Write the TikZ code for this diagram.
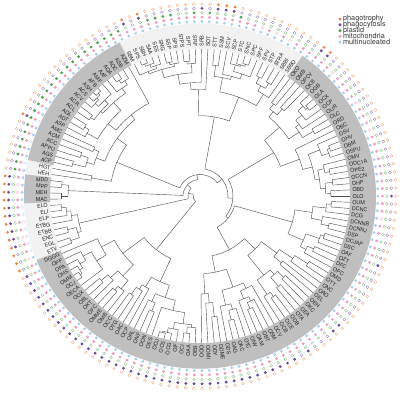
\documentclass[tikz,border=0pt]{standalone}
\usepackage{fontspec}
\setmainfont{TeX Gyre Heros}
\definecolor{phagotrophy}{HTML}{F0874A}
\definecolor{phagocytosis}{HTML}{6B4A9E}
\definecolor{plastid}{HTML}{4CA64C}
\definecolor{mitochondria}{HTML}{F09BBE}
\definecolor{multinucleated}{HTML}{A9CFEE}
\tikzset{
  branch/.style={draw=black!70, line width=0.3pt},
  leaflab/.style={inner sep=0.2pt, font=\fontsize{3.8}{4}\selectfont, text=black!85},
  legtext/.style={inner sep=0pt, font=\fontsize{5.2}{5.5}\selectfont, text=black!80},
  cladeband/.style={fill=black!25},
  paleband/.style={fill=black!5},
}
\def\tipr{150}
\def\leafstep{2.41610738}% 360/149
% one arc between two child angles, stem down to the parent radius
\newcommand\joinclades[4]{%
  \draw[branch] (#1:#3) arc[start angle=#1, end angle=#2, radius=#3];
  \pgfmathsetmacro\thN{(#1+#2)/2}%
  \draw[branch] (\thN:#4) -- (\thN:#3);
  \xdef\cladeang{\thN}}
% leaves #1..#2 hanging from radius #3, split at random
\newcommand\subclade[3]{%
  \begingroup
  \edef\ca{#1}\edef\cb{#2}\edef\crp{#3}%
  \ifnum\ca=\cb\relax
    \pgfmathsetmacro\ang{\ca*\leafstep}%
    \draw[branch] (\ang:\crp) -- (\ang:\tipr);
    \xdef\cladeang{\ang}%
  \else
    \pgfmathsetmacro\rr{\crp+(\tipr-\crp)*(0.12+0.3*rnd)}%
    \pgfmathtruncatemacro\mm{\ca+min(floor((\cb-\ca)*rnd),\cb-\ca-1)}%
    \edef\next{\noexpand\cladesplit{\ca}{\mm}{\cb}{\crp}{\rr}}%
    \expandafter\next
  \fi
  \endgroup}
% leaves #1..#3 split after #2, parent radius #4, node radius #5
\newcommand\cladesplit[5]{%
  \begingroup
  \pgfmathtruncatemacro\mmp{#2+1}%
  \subclade{#1}{#2}{#5}\let\thA\cladeang
  \subclade{\mmp}{#3}{#5}\let\thB\cladeang
  \joinclades{\thA}{\thB}{#5}{#4}%
  \endgroup}
\newcommand\band[3]{%
  \pgfmathsetmacro\ba{#1*\leafstep}\pgfmathsetmacro\bb{#2*\leafstep}%
  \fill[#3] (\ba:150) arc[start angle=\ba, end angle=\bb, radius=150]
    -- (\bb:176) arc[start angle=\bb, end angle=\ba, radius=176] -- cycle;}
\newcommand\traitdot[3]{%
  \ifnum#3=1 \fill[#2] (\ang:#1) circle[radius=1.6];%
  \else \draw[#2!70, line width=0.25pt] (\ang:#1) circle[radius=1.45];\fi}
\def\dottraits#1#2#3#4#5\relax{%
  \traitdot{196}{phagotrophy}{#1}%
  \traitdot{191.5}{phagocytosis}{#2}%
  \traitdot{187}{plastid}{#3}%
  \traitdot{182.5}{mitochondria}{#4}%
  \traitdot{178}{multinucleated}{#5}}

\begin{document}
\begin{tikzpicture}[x=0.025cm, y=0.0245cm]
\useasboundingbox (-200,-200) rectangle (200,200);

% label bands
\fill[paleband, even odd rule] (0,0) circle[radius=176] (0,0) circle[radius=150];
\band{197.5}{218.5}{cladeband}
\band{220.5}{224.5}{cladeband}
\band{232.5}{320.5}{cladeband}

% tree
\pgfmathsetseed{11}
\cladesplit{149}{160}{171}{33}{86}\let\tOR\cladeang
\cladesplit{137}{142}{148}{36}{96}\let\tBR\cladeang
\cladesplit{112}{124}{136}{36}{62}\let\tBo\cladeang
\joinclades{\tBo}{\tBR}{36}{33}\let\tBB\cladeang
\joinclades{\tBB}{\tOR}{33}{28}\let\tPa\cladeang
\cladesplit{172}{184}{197}{28}{82}\let\tS\cladeang
\joinclades{\tPa}{\tS}{28}{22}\let\tPb\cladeang
\cladesplit{198}{218}{220}{22}{90}\let\tAH\cladeang
\joinclades{\tPb}{\tAH}{22}{17}\let\tPc\cladeang
\cladesplit{221}{222}{224}{17}{132}\let\tM\cladeang
\joinclades{\tPc}{\tM}{17}{12}\let\tPd\cladeang
\cladesplit{225}{228}{232}{12}{124}\let\tE\cladeang
\joinclades{\tPd}{\tE}{12}{7}\let\tPe\cladeang
\cladesplit{233}{245}{260}{7}{70}\let\tBL\cladeang
\joinclades{\tPe}{\tBL}{7}{7}

% leaf labels and trait rings
\foreach \i/\lab/\code in {
  112/ODO/01011, 113/ODMI/01011, 114/ODY/01011, 115/ODME/01011, 116/ODS/01011,
  117/OAG/01011, 118/OAC/01011, 119/OTC/01011, 120/ONV/01011, 121/OAM/01011,
  122/OBT/01011, 123/OSM/01011, 124/OCV/01011, 125/OCB/00011, 126/OCE/01011,
  127/ODB/00011, 128/OTA/00011, 129/OEA/00011, 130/OKC/01011, 131/OEH/01011,
  132/OEL/00011, 133/OAO/00011, 134/ONC/00011, 135/OTT/00011, 136/OMD/00011,
  137/OPC/00011, 138/DFC/00011, 139/OZT/00011, 140/OAF/01011, 141/DSC/00011,
  142/OCJAP/00011, 143/DSP/00011, 144/DCNNJ/00011, 145/DCNNB/00011, 146/DCG/00001,
  147/DCNC/00011, 148/OUM/00011,
  149/OLO/01011, 150/OBD/00011, 151/OHP/00011, 152/OCCN/00011, 153/OPE2/00011,
  154/ODC1A/00011, 155/OMV/00011, 156/OSPU/00011, 157/OBM/00011, 158/OHV/00001,
  159/OSV/00011, 160/OBC/00011, 161/ORD/00011, 162/OLC/00001, 163/OUR/00011,
  164/OCP/00011, 165/OCX/00011, 166/OLA/00011, 167/OGB/00001, 168/OKB/00011,
  169/OPCY/11011, 170/OMB/11011, 171/OKO/00011,
  172/SBBO/00011, 173/SBBI/00011, 174/STRA/00001, 175/STP/00011, 176/SPV/00001,
  177/SPF/00011, 178/SPC/00001, 179/SNC/00011, 180/STC/00011, 181/SCP/00111,
  182/SCV/11011, 183/SSM/11011, 184/STT/11011, 185/SOT/00111, 186/SRB/01011,
  187/SRF/00111, 188/SPT/00011, 189/STPS/00011, 190/SPS/00111, 191/SSP/00111,
  192/SNG/00111, 193/SES/00111, 194/SAA/11011, 195/SBH/00011, 196/SPS/11011,
  197/SBM/00111,
  198/AZM/00111, 199/ASB/00111, 200/AOC/00111, 201/AQA/00111, 202/AAF/00110,
  203/AMF/00111, 204/AFB/00111, 205/ASH/00111, 206/ACS/00111, 207/ACV/00111,
  208/ACR/00110, 209/ACL/00111, 210/AQL/00111, 211/ADT/00111, 212/ASP/00111,
  213/AMC/11110, 214/ACM/00111, 215/ACC/00111, 216/APPU/00110, 217/AGS/00111,
  218/ACP/00111,
  219/HGT/00110, 220/HEH/00111,
  221/MDD/11011, 222/MPP/11001, 223/MEH/11001, 224/MAC/11011,
  225/ELO/11010, 226/ELI/11010, 227/ELP/11010, 228/ETBG/11010, 229/ETBB/11000,
  230/ENC/11010, 231/EGL/10010, 232/ETV/10001,
  233/DGGG/10011, 234/OPP/01011, 235/OPA/01011, 236/OHS/01011, 237/OMM/01011,
  238/OCJ/01011, 239/OECA/01011, 240/OOX/01011, 241/OBL/01011, 242/OKT/01011,
  243/OFC/01011, 244/OMME/01011, 245/OMB/01011, 246/OCC/01011, 247/OTG/01011,
  248/OAC/01011, 249/OCP/01011, 250/ORL/01011, 251/ONF/01011, 252/OON/01011,
  253/OES/01011, 254/OOJ/01011, 255/OCS/01011, 256/OCG/01011, 257/OIF/01011,
  258/OCI/01011, 259/OAA/01011, 260/OEB/01011}{
  \pgfmathsetmacro\ang{\i*\leafstep}
  \pgfmathsetmacro\am{mod(\ang,360)}
  \pgfmathtruncatemacro\flip{(\am>90 && \am<270) ? 1 : 0}
  \ifnum\flip=1
    \node[leaflab, rotate=\ang+180, anchor=east] (lab\i) at (\ang:152) {\lab};
  \else
    \node[leaflab, rotate=\ang, anchor=west] (lab\i) at (\ang:152) {\lab};
  \fi
  \expandafter\dottraits\code\relax
}

% legend
\foreach \k/\t in {0/phagotrophy, 1/phagocytosis, 2/plastid, 3/mitochondria, 4/multinucleated}{
  \fill[\t] (140,180.6-5.9*\k) circle[radius=1.7];
  \node[legtext, anchor=west] (leg\t) at (142.8,180.6-5.9*\k) {\t};
}
\end{tikzpicture}
\end{document}
